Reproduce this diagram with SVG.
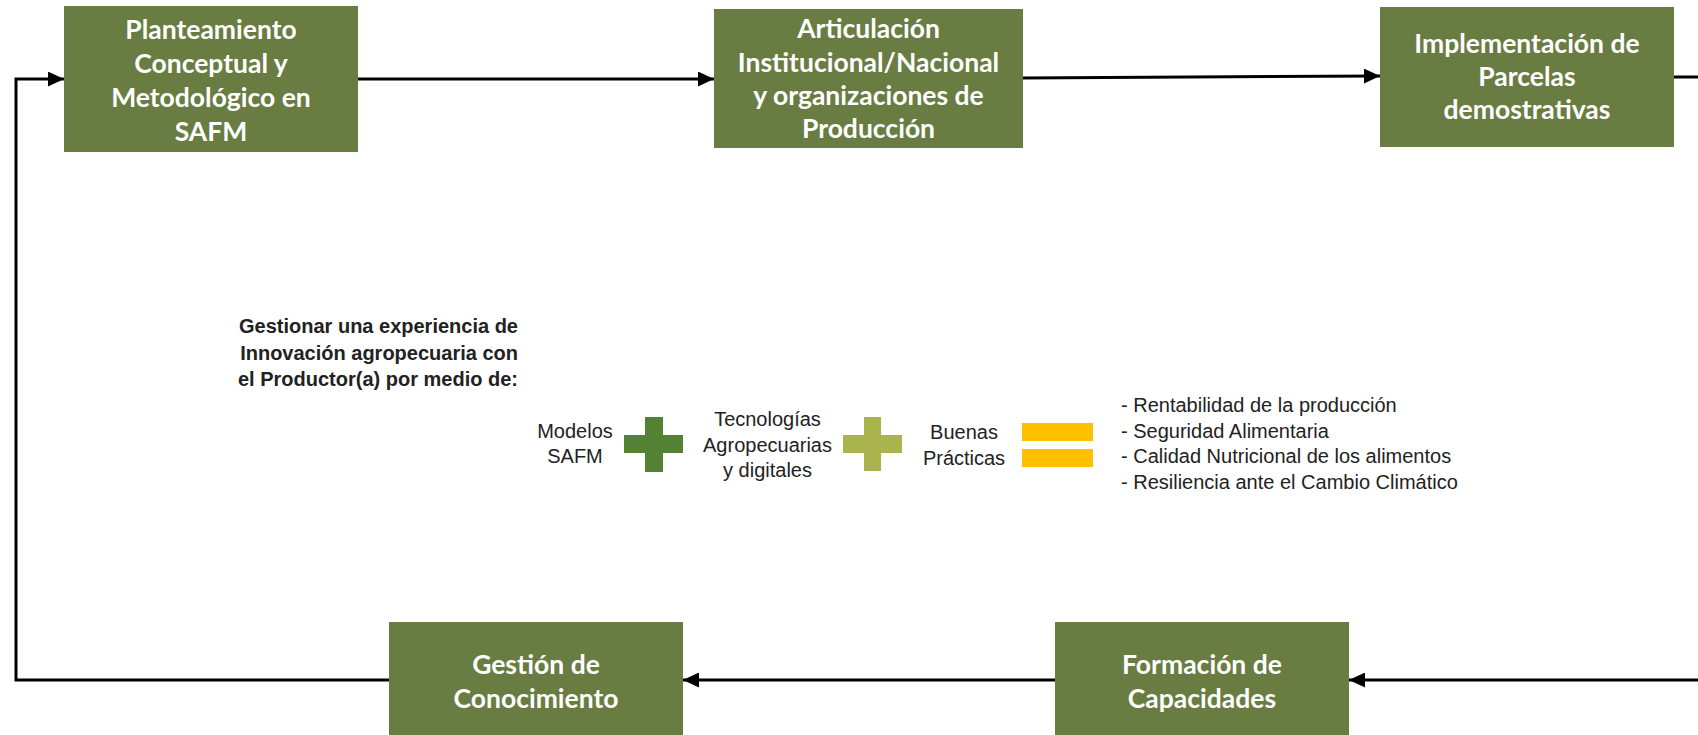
<svg xmlns="http://www.w3.org/2000/svg" width="1698" height="735" viewBox="0 0 1698 735">
<defs>
<style>
.box{fill:#697C42;}
.bt{font-family:Lato,"Liberation Sans",sans-serif;font-weight:700;font-size:26.5px;fill:#ffffff;text-anchor:middle;}
.conn{fill:none;stroke:#000;stroke-width:3;}
.mt{font-family:"Liberation Sans",Arial,sans-serif;font-size:20px;fill:#222;}
.c{text-anchor:middle;}
</style>
<marker id="ah" markerUnits="userSpaceOnUse" markerWidth="16" markerHeight="15" refX="16" refY="7.5" orient="auto">
<path d="M0,0 L16,7.5 L0,15 z" fill="#000"/>
</marker>
</defs>
<rect width="1698" height="735" fill="#fff"/>
<g id="connectors">
<path class="conn" d="M358,79 L714,79" marker-end="url(#ah)"/>
<path class="conn" d="M1023,78 L1380,76" marker-end="url(#ah)"/>
<path class="conn" d="M1674,77 L1700,77"/>
<path class="conn" d="M1700,680 L1349,680" marker-end="url(#ah)"/>
<path class="conn" d="M1055,680 L683,680" marker-end="url(#ah)"/>
<path class="conn" d="M389,680 L16,680 L16,79 L64,79" marker-end="url(#ah)"/>
</g>
<g id="node-planteamiento">
<rect class="box" x="64" y="6" width="294" height="146"/>
<text class="bt" x="211" y="39">Planteamiento</text>
<text class="bt" x="211" y="73">Conceptual y</text>
<text class="bt" x="211" y="107">Metodológico en</text>
<text class="bt" x="211" y="141">SAFM</text>
</g>
<g id="node-articulacion">
<rect class="box" x="714" y="9" width="309" height="139"/>
<text class="bt" x="868.5" y="38">Articulación</text>
<text class="bt" x="868.5" y="72">Institucional/Nacional</text>
<text class="bt" x="868.5" y="105">y organizaciones de</text>
<text class="bt" x="868.5" y="138">Producción</text>
</g>
<g id="node-implementacion">
<rect class="box" x="1380" y="7" width="294" height="140"/>
<text class="bt" x="1527" y="53">Implementación de</text>
<text class="bt" x="1527" y="86">Parcelas</text>
<text class="bt" x="1527" y="119">demostrativas</text>
</g>
<g id="node-formacion">
<rect class="box" x="1055" y="622" width="294" height="125"/>
<text class="bt" x="1202" y="674">Formación de</text>
<text class="bt" x="1202" y="708">Capacidades</text>
</g>
<g id="node-gestion">
<rect class="box" x="389" y="622" width="294" height="125"/>
<text class="bt" x="536" y="674">Gestión de</text>
<text class="bt" x="536" y="708">Conocimiento</text>
</g>
<g id="center-text">
<text class="mt" x="518" y="333" text-anchor="end" font-weight="700">Gestionar una experiencia de</text>
<text class="mt" x="518" y="360" text-anchor="end" font-weight="700">Innovación agropecuaria con</text>
<text class="mt" x="518" y="386" text-anchor="end" font-weight="700">el Productor(a) por medio de:</text>
<text class="mt c" x="575" y="438">Modelos</text>
<text class="mt c" x="575" y="463">SAFM</text>
<path d="M645,417 H663 V435 H683 V453 H663 V472 H645 V453 H624 V435 H645 z" fill="#548235"/>
<text class="mt c" x="767.5" y="426">Tecnologías</text>
<text class="mt c" x="767.5" y="452">Agropecuarias</text>
<text class="mt c" x="767.5" y="477">y digitales</text>
<path d="M864,417 H881 V435 H902 V453 H881 V471 H864 V453 H843 V435 H864 z" fill="#A9B44F"/>
<text class="mt c" x="964" y="439">Buenas</text>
<text class="mt c" x="964" y="465">Prácticas</text>
<rect x="1022" y="423" width="71" height="18" fill="#FFC000"/>
<rect x="1022" y="449" width="71" height="18" fill="#FFC000"/>
<text class="mt" x="1121" y="412">- Rentabilidad de la producción</text>
<text class="mt" x="1121" y="437.5">- Seguridad Alimentaria</text>
<text class="mt" x="1121" y="463">- Calidad Nutricional de los alimentos</text>
<text class="mt" x="1121" y="488.5">- Resiliencia ante el Cambio Climático</text>
</g>
</svg>
